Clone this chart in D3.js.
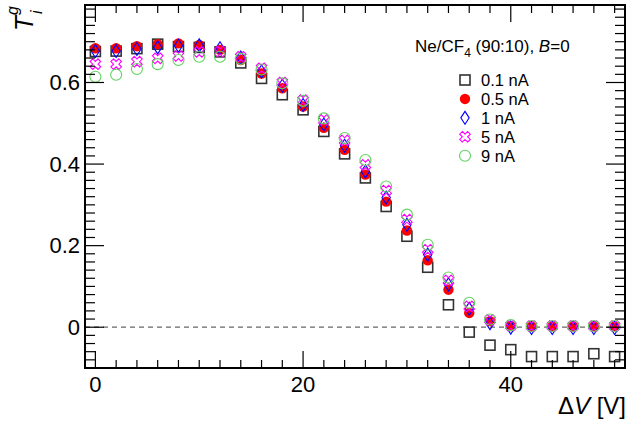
<!DOCTYPE html>
<html>
<head>
<meta charset="utf-8">
<script src="https://cdn.jsdelivr.net/npm/d3@7"></script>
<style>
  body { margin: 0; background: #fff; }
  text { font-family: "Liberation Sans", Arial, sans-serif; }
</style>
</head>
<body>
<script>
// data
var dV = [0, 2, 4, 6, 8, 10, 12, 14, 16, 18, 20, 22, 24, 26, 28, 30, 32, 34, 36, 38, 40, 42, 44, 46, 48, 50];
var t01 = [0.676, 0.677, 0.683, 0.694, 0.688, 0.686, 0.675, 0.648, 0.610, 0.570, 0.533, 0.480, 0.425, 0.366, 0.296, 0.223, 0.147, 0.055, -0.012, -0.044, -0.055, -0.072, -0.072, -0.072, -0.065, -0.072];
var t05 = [0.684, 0.684, 0.689, 0.694, 0.696, 0.692, 0.680, 0.655, 0.622, 0.586, 0.541, 0.489, 0.435, 0.374, 0.308, 0.237, 0.164, 0.092, 0.035, 0.015, 0.003, 0.002, 0.002, 0.002, 0.002, 0.002];
var t1 = [0.677, 0.677, 0.682, 0.686, 0.690, 0.691, 0.684, 0.661, 0.627, 0.592, 0.545, 0.497, 0.445, 0.382, 0.318, 0.251, 0.178, 0.105, 0.045, 0.010, -0.001, -0.002, -0.002, -0.002, -0.002, -0.002];
var t5 = [0.645, 0.645, 0.651, 0.659, 0.665, 0.675, 0.676, 0.663, 0.635, 0.600, 0.557, 0.508, 0.458, 0.398, 0.335, 0.264, 0.190, 0.115, 0.051, 0.018, 0.004, 0.003, 0.003, 0.003, 0.003, 0.003];
var t9 = [0.614, 0.619, 0.633, 0.645, 0.655, 0.663, 0.663, 0.658, 0.632, 0.598, 0.555, 0.512, 0.464, 0.410, 0.345, 0.276, 0.202, 0.122, 0.060, 0.019, 0.005, 0.003, 0.003, 0.003, 0.003, 0.003];
var labels = ["0.1 nA", "0.5 nA", "1 nA", "5 nA", "9 nA"];
var xTicks = [0, 20, 40];
var yTicks = [0, 0.2, 0.4, 0.6];

var width = 628, height = 423;
var padL = 85, padR = 625, padT = 5, padB = 368;

var x = d3.scaleLinear().domain([-1, 51]).range([padL, padR]);
var y = d3.scaleLinear().domain([-0.1, 0.79]).range([padB, padT]);

var svg = d3.select("body").append("svg")
    .attr("width", width)
    .attr("height", height);

// marker shapes
var shapes = {
  square: function(g) {
    g.append("rect").attr("x", -5).attr("y", -5).attr("width", 10).attr("height", 10)
      .attr("fill", "none").attr("stroke", "#333").attr("stroke-width", 1.6);
  },
  dot: function(g) {
    g.append("circle").attr("r", 5.2).attr("fill", "#ff0000");
  },
  diamond: function(g) {
    g.append("path").attr("d", "M0,-6.5L4.2,0L0,6.5L-4.2,0Z")
      .attr("fill", "none").attr("stroke", "#0000ff").attr("stroke-width", 1.1);
  },
  xcross: function(g) {
    g.append("path").attr("d", d3.symbol(d3.symbolCross, 70)())
      .attr("transform", "rotate(45)")
      .attr("fill", "none").attr("stroke", "#ff00ff").attr("stroke-width", 1.1);
  },
  ring: function(g) {
    g.append("circle").attr("r", 5.5)
      .attr("fill", "none").attr("stroke", "#5fd35f").attr("stroke-width", 1.1);
  }
};

var series = [
  {name: labels[0], values: t01, shape: "square"},
  {name: labels[1], values: t05, shape: "dot"},
  {name: labels[2], values: t1, shape: "diamond"},
  {name: labels[3], values: t5, shape: "xcross"},
  {name: labels[4], values: t9, shape: "ring"}
];

// dashed zero line
svg.append("line")
    .attr("x1", padL).attr("x2", padR)
    .attr("y1", y(0)).attr("y2", y(0))
    .attr("stroke", "#666").attr("stroke-width", 1.2)
    .attr("stroke-dasharray", "5,4");

// points
series.forEach(function(s) {
  svg.append("g").selectAll("g")
    .data(s.values)
    .enter().append("g")
      .attr("transform", function(d, i) { return "translate(" + x(dV[i]) + "," + y(d) + ")"; })
      .each(function() { shapes[s.shape](d3.select(this)); });
});

// ticks, ROOT style (inside, on all four sides)
var xMinor = d3.range(0, 51, 2);
var yMinor = d3.range(-0.08, 0.79, 0.02);

var ticks = svg.append("g").attr("stroke", "#000").attr("stroke-width", 1.2);
xMinor.forEach(function(v) {
  var len = (v % 20 === 0) ? 17 : 8;
  ticks.append("line").attr("x1", x(v)).attr("x2", x(v)).attr("y1", padB).attr("y2", padB - len);
  ticks.append("line").attr("x1", x(v)).attr("x2", x(v)).attr("y1", padT).attr("y2", padT + len);
});
yMinor.forEach(function(v) {
  var major = Math.abs(Math.round(v / 0.2) * 0.2 - v) < 1e-6;
  var len = major ? 19 : 10;
  ticks.append("line").attr("x1", padL).attr("x2", padL + len).attr("y1", y(v)).attr("y2", y(v));
  ticks.append("line").attr("x1", padR).attr("x2", padR - len).attr("y1", y(v)).attr("y2", y(v));
});

// frame
svg.append("rect")
    .attr("x", padL).attr("y", padT)
    .attr("width", padR - padL).attr("height", padB - padT)
    .attr("fill", "none").attr("stroke", "#000").attr("stroke-width", 2);

// tick labels
svg.append("g").selectAll("text")
  .data(xTicks)
  .enter().append("text")
    .attr("x", function(d) { return x(d); })
    .attr("y", 392)
    .attr("text-anchor", "middle")
    .attr("font-size", 22)
    .text(function(d) { return d; });

svg.append("g").selectAll("text")
  .data(yTicks)
  .enter().append("text")
    .attr("x", 80)
    .attr("y", function(d) { return y(d) + 7.8; })
    .attr("text-anchor", "end")
    .attr("font-size", 22)
    .text(function(d) { return d === 0 ? "0" : d3.format(".1f")(d); });

// axis titles
var xt = svg.append("text")
    .attr("x", 626).attr("y", 414)
    .attr("text-anchor", "end")
    .attr("font-size", 24);
xt.append("tspan").text("\u0394");
xt.append("tspan").attr("font-style", "italic").text("V");
xt.append("tspan").text(" [V]");

var yt = svg.append("g").attr("transform", "translate(33,0) rotate(-90)");
yt.append("text").attr("x", -31).attr("y", 0)
    .attr("font-size", 25).attr("font-style", "italic").text("T");
yt.append("text").attr("x", -15).attr("y", -15)
    .attr("font-size", 16).attr("font-style", "italic").text("g");
yt.append("text").attr("x", -14).attr("y", 9)
    .attr("font-size", 16).attr("font-style", "italic").text("i");

// legend
var header = svg.append("text")
    .attr("x", 415).attr("y", 52)
    .attr("font-size", 17);
header.append("tspan").text("Ne/CF");
header.append("tspan").attr("font-size", 12).attr("dy", 5).text("4");
header.append("tspan").attr("dy", -5).text(" (90:10), ");
header.append("tspan").attr("font-style", "italic").text("B");
header.append("tspan").text("=0");

var rowY = d3.scaleLinear().domain([0, 4]).range([80, 155.7]);
series.forEach(function(s, i) {
  var g = svg.append("g").attr("transform", "translate(465," + rowY(i) + ")");
  shapes[s.shape](g);
  svg.append("text")
    .attr("x", 481).attr("y", rowY(i) + 6)
    .attr("font-size", 16.5)
    .text(s.name);
});
</script>
</body>
</html>
